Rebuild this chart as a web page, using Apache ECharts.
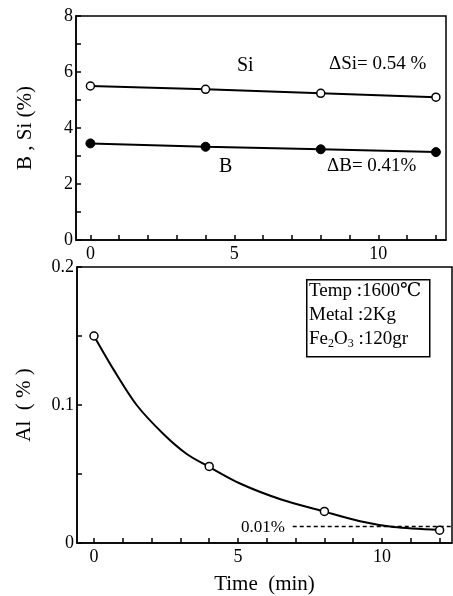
<!DOCTYPE html>
<html><head><meta charset="utf-8">
<script src="https://cdn.jsdelivr.net/npm/echarts@6/dist/echarts.min.js"></script>
<style>html,body{margin:0;padding:0;background:#fff}#c{width:453px;height:596px}</style>
</head><body><div id="c"></div>
<script>
var timeMin = [0, 4, 8, 12];
var siPct = [5.5, 5.38, 5.24, 5.1];
var bPct = [3.45, 3.33, 3.24, 3.14];
var alPct = [0.150, 0.0555, 0.0229, 0.0093];
// fitted curve
var alCurveT = [0, 0.67, 1.48, 2.41, 3.22, 3.95, 5.07, 6.5, 7.9, 9.24, 10.4, 12];
var alCurveV = [0.150, 0.126, 0.100, 0.079, 0.0645, 0.0557, 0.0431, 0.0315, 0.0233, 0.0157, 0.0116, 0.0095];
var xTicks = [0,1,2,3,4,5,6,7,8,9,10,11,12];
var xTickLabels = [0, 5, 10];
var alLimit = 0.012;
var alLimitFrom = 6.9;

var F = '"Liberation Serif", "DejaVu Serif", serif';
var chart = echarts.init(document.getElementById('c'));
function pairs(xs, ys){ return xs.map(function(x,i){return [x, ys[i]];}); }
function xAxisCfg(grid, min, max, name){
  return {type:'value', gridIndex:grid, min:min, max:max,
    axisLine:{show:true, onZero:false, lineStyle:{color:'#000', width:1.5}},
    axisTick:{show:true, inside:true, length:5, customValues:xTicks, lineStyle:{color:'#000', width:1.5}},
    axisLabel:{show:true, customValues:xTickLabels, color:'#000', fontFamily:F, fontSize:18, margin:5},
    splitLine:{show:false},
    name:name||'', nameLocation:'middle', nameGap:31,
    nameTextStyle:{color:'#000', fontFamily:F, fontSize:21}};
}
function yAxisCfg(grid, min, max, interval, name, gap){
  return {type:'value', gridIndex:grid, min:min, max:max, interval:interval,
    axisLine:{show:true, onZero:false, lineStyle:{color:'#000', width:1.5}},
    axisTick:{show:true, inside:true, length:5, lineStyle:{color:'#000', width:1.5}},
    minorTick:{show:true, splitNumber:2, length:5, lineStyle:{color:'#000', width:1.5}},
    axisLabel:{color:'#000', fontFamily:F, fontSize:18, margin:3},
    splitLine:{show:false},
    name:name, nameLocation:'middle', nameGap:gap, nameRotate:90,
    nameTextStyle:{color:'#000', fontFamily:F, fontSize:21}};
}
chart.setOption({
  animation:false,
  backgroundColor:'#fff',
  grid:[
    {left:76, top:16, right:7, height:224, show:true, borderColor:'#000', borderWidth:1.5},
    {left:77, top:267, right:1, bottom:49, show:true, borderColor:'#000', borderWidth:1.5}
  ],
  xAxis:[xAxisCfg(0, -0.5, 12.35), xAxisCfg(1, -0.59, 12.43, 'Time  (min)')],
  yAxis:[yAxisCfg(0, 0, 8, 2, 'B , Si (%)', 40), yAxisCfg(1, 0, 0.2, 0.1, 'Al  ( % )', 42)],
  series:[
    {type:'line', xAxisIndex:0, yAxisIndex:0, data:pairs(timeMin, siPct),
      symbol:'circle', symbolSize:8, itemStyle:{color:'#fff', borderColor:'#000', borderWidth:1.5},
      lineStyle:{color:'#000', width:2}},
    {type:'line', xAxisIndex:0, yAxisIndex:0, data:pairs(timeMin, bPct),
      symbol:'circle', symbolSize:9, itemStyle:{color:'#000', borderColor:'#000'},
      lineStyle:{color:'#000', width:2}},
    {type:'line', xAxisIndex:1, yAxisIndex:1, data:pairs(alCurveT, alCurveV), smooth:0.3,
      symbol:'none', lineStyle:{color:'#000', width:2},
      markLine:{silent:true, symbol:'none', label:{show:false},
        lineStyle:{color:'#000', type:[4,3], width:1.3},
        data:[[{coord:[alLimitFrom, alLimit]},{coord:[12.43, alLimit]}]]}},
    {type:'scatter', xAxisIndex:1, yAxisIndex:1, data:pairs(timeMin, alPct),
      symbol:'circle', symbolSize:8, itemStyle:{color:'#fff', borderColor:'#000', borderWidth:1.5, opacity:1}, z:5}
  ],
  graphic:[
    {type:'text', left:237, top:56, style:{text:'Si', font:'20px '+F, fill:'#000'}},
    {type:'text', left:329, top:55, style:{text:'ΔSi= 0.54 %', font:'19px '+F, fill:'#000'}},
    {type:'text', left:219, top:157, style:{text:'B', font:'20px '+F, fill:'#000'}},
    {type:'text', left:327, top:157, style:{text:'ΔB= 0.41%', font:'19px '+F, fill:'#000'}},
    {type:'text', left:241, top:519, style:{text:'0.01%', font:'17px '+F, fill:'#000'}},
    {type:'rect', left:306, top:279, shape:{width:123, height:77}, style:{fill:'#fff', stroke:'#000', lineWidth:1.5}},
    {type:'text', left:309, top:282, style:{text:'Temp :1600℃', font:'19px '+F, fill:'#000'}},
    {type:'text', left:309, top:306, style:{text:'Metal :2Kg', font:'19px '+F, fill:'#000'}},
    {type:'text', left:309, top:330, style:{
      text:'Fe{s|2}O{s|3} :120gr', font:'19px '+F, fill:'#000',
      rich:{s:{fontFamily:F, fontSize:12, verticalAlign:'bottom', padding:[8,0,0,0]}}}}
  ]
});
</script></body></html>
